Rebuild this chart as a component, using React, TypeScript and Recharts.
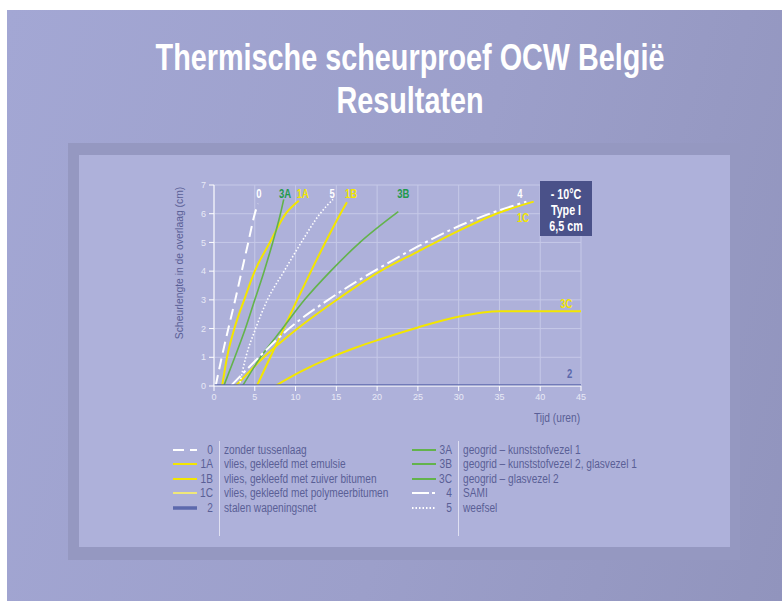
import { LineChart, Line, XAxis, YAxis, CartesianGrid, ReferenceDot } from 'recharts';

const FONT = '"Liberation Sans", Arial, sans-serif';
const NARROW = 0.8;

const WHITE = '#ffffff';
const YELLOW = '#f3e600';
const GREEN = '#63b34c';
const TAG_GREEN = '#1f9a4c';
const BLUE = '#5c69ad';
const TEXT = '#5a5f96';

// tick values
const X_TICKS = [0, 5, 10, 15, 20, 25, 30, 35, 40, 45];
const Y_TICKS = [0, 1, 2, 3, 4, 5, 6, 7];

// hours vs crack length (cm)
const HOURS_0 = [0.2, 0.95, 1.76, 2.6, 3.4, 4.2, 5.0, 5.4];
const CM_0 = [0, 1, 2, 3, 4, 5, 6, 6.35];

const HOURS_1A = [1.0, 1.6, 2.5, 3.7, 5.0, 6.85, 8.8, 10.4];
const CM_1A = [0, 1, 2, 3, 4, 5, 6, 6.45];

const HOURS_1B = [5.25, 6.9, 8.55, 10.2, 11.9, 13.65, 15.5, 16.3];
const CM_1B = [0, 1, 2, 3, 4, 5, 6, 6.4];

const HOURS_1C = [2.65, 6.1, 10.25, 14.8, 20.4, 25, 30.1, 35.1, 39.2];
const CM_1C = [0, 1, 2, 2.95, 4.0, 4.68, 5.42, 6.05, 6.42];

const HOURS_2 = [0, 45];
const CM_2 = [0, 0];

const HOURS_3A = [1.2, 2.55, 3.85, 5.0, 6.15, 7.2, 8.15, 8.55];
const CM_3A = [0, 1, 2, 3, 4, 5, 6, 6.5];

const HOURS_3B = [3.5, 5.7, 8.4, 11.1, 14.3, 17.9, 22.6];
const CM_3B = [0, 1, 2, 3, 4, 5, 6.07];

const HOURS_3C = [7.5, 10.5, 14.2, 17.5, 20.4, 25, 30.1, 35, 40, 45];
const CM_3C = [0, 0.48, 0.98, 1.35, 1.63, 2.04, 2.42, 2.6, 2.6, 2.6];

const HOURS_4 = [2.05, 5.5, 9.2, 14.0, 20.4, 25, 30.1, 35.1, 38.3];
const CM_4 = [0, 1, 2, 3, 4.13, 4.86, 5.58, 6.13, 6.42];

const HOURS_5 = [3.1, 3.9, 5.1, 6.55, 8.6, 10.7, 13.0, 14.6];
const CM_5 = [0, 1, 2, 3, 4, 5, 6, 6.5];

// curve tags inside the plot
const TAGS = ['0', '3A', '1A', '5', '1B', '3B', '4', '1C', '3C', '2'];
const TAG_HOURS = [5.5, 8.7, 10.9, 14.5, 16.8, 23.2, 37.5, 37.9, 43.2, 43.6];
const TAG_CM = [6.72, 6.72, 6.72, 6.72, 6.72, 6.72, 6.72, 5.88, 2.88, 0.45];
const TAG_COLORS = [WHITE, TAG_GREEN, YELLOW, WHITE, YELLOW, TAG_GREEN, WHITE, YELLOW, YELLOW, BLUE];

// legend
const LEGEND_LEFT_CODES = ['0', '1A', '1B', '1C', '2'];
const LEGEND_LEFT_TEXT = [
  'zonder tussenlaag',
  'vlies, gekleefd met emulsie',
  'vlies, gekleefd met zuiver bitumen',
  'vlies, gekleefd met polymeerbitumen',
  'stalen wapeningsnet',
];
const LEGEND_RIGHT_CODES = ['3A', '3B', '3C', '4', '5'];
const LEGEND_RIGHT_TEXT = [
  'geogrid \u2013 kunststofvezel 1',
  'geogrid \u2013 kunststofvezel 2, glasvezel 1',
  'geogrid \u2013 glasvezel 2',
  'SAMI',
  'weefsel',
];

const zip = (hours: number[], cm: number[]) => hours.map((h, i) => ({ h, cm: cm[i] }));

type Style = { color: string; width: number; dash?: string };

const STYLES: Record<string, Style> = {
  '0': { color: WHITE, width: 2, dash: '11 6' },
  '1A': { color: YELLOW, width: 2 },
  '1B': { color: YELLOW, width: 2 },
  '1C': { color: YELLOW, width: 2 },
  '2': { color: BLUE, width: 3.5 },
  '3A': { color: GREEN, width: 1.6 },
  '3B': { color: GREEN, width: 1.6 },
  '3C': { color: GREEN, width: 1.6 },
  '4': { color: WHITE, width: 2, dash: '14 4 3 4' },
  '5': { color: WHITE, width: 1.6, dash: '1.5 2' },
};

const SERIES = [
  { key: '0', data: zip(HOURS_0, CM_0), style: STYLES['0'] },
  { key: '1A', data: zip(HOURS_1A, CM_1A), style: STYLES['1A'] },
  { key: '1B', data: zip(HOURS_1B, CM_1B), style: STYLES['1B'] },
  { key: '1C', data: zip(HOURS_1C, CM_1C), style: STYLES['1C'] },
  { key: '3A', data: zip(HOURS_3A, CM_3A), style: STYLES['3A'] },
  { key: '3B', data: zip(HOURS_3B, CM_3B), style: STYLES['3B'] },
  { key: '3C', data: zip(HOURS_3C, CM_3C), style: { color: YELLOW, width: 2 } },
  { key: '4', data: zip(HOURS_4, CM_4), style: STYLES['4'] },
  { key: '5', data: zip(HOURS_5, CM_5), style: STYLES['5'] },
  { key: '2', data: zip(HOURS_2, CM_2), style: STYLES['2'] },
];

const LegendSample = ({ code, left, top }: { code: string; left: number; top: number }) => {
  const s = STYLES[code];
  return (
    <svg width={24} height={8} style={{ position: 'absolute', left, top: top - 4 }}>
      <line
        x1={0}
        x2={24}
        y1={4}
        y2={4}
        stroke={code === '1C' ? '#efe77a' : s.color}
        strokeWidth={code === '2' ? 3.5 : 2}
        strokeDasharray={code === '4' ? '17 3 3 3' : s.dash}
      />
    </svg>
  );
};

const LegendColumn = ({ codes, texts, left }: { codes: string[]; texts: string[]; left: number }) => (
  <>
    {codes.map((code, i) => {
      const y = 450 + i * 14.4;
      return (
        <div key={code}>
          <LegendSample code={code} left={left} top={y} />
          <div
            style={{
              position: 'absolute', left: left, top: y - 8, width: 40, height: 16, lineHeight: '16px',
              textAlign: 'right', transform: 'scaleX(0.81)', transformOrigin: 'right center', color: TEXT,
            }}
          >
            {code}
          </div>
          <div
            style={{
              position: 'absolute', left: left + 51, top: y - 8, height: 16, lineHeight: '16px',
              whiteSpace: 'nowrap', transform: 'scaleX(0.81)', transformOrigin: 'left center', color: TEXT,
            }}
          >
            {texts[i]}
          </div>
        </div>
      );
    })}
    <div style={{ position: 'absolute', left: left + 46, top: 441, width: 1, height: 95, background: '#dfe0f2' }} />
  </>
);

const Tag = ({ viewBox, value, fill }: any) => {
  const cx = viewBox.x + viewBox.width / 2;
  const cy = viewBox.y + viewBox.height / 2;
  return (
    <text
      transform={`translate(${cx} ${cy}) scale(0.76 1)`}
      textAnchor="middle"
      dominantBaseline="central"
      fill={fill}
      fontSize={12.5}
      fontWeight={700}
      fontFamily={FONT}
    >
      {value}
    </text>
  );
};

export default function App() {
  return (
    <div style={{ position: 'absolute', left: 0, top: 0, width: 782, height: 601, background: '#fff', overflow: 'hidden', fontFamily: FONT }}>
      <div style={{ position: 'absolute', left: 7, top: 10, width: 775, height: 591, background: 'linear-gradient(105deg, #a3a7d4 0%, #9c9fca 55%, #9194bd 100%)' }} />
      <div
        style={{
          position: 'absolute', left: 10, top: 36, width: 800, textAlign: 'center', color: '#fff', fontWeight: 700,
          fontSize: 36, lineHeight: '43px', transform: `scaleX(${NARROW})`, transformOrigin: 'center top', whiteSpace: 'nowrap',
        }}
      >
        Thermische scheurproef OCW België
        <br />
        Resultaten
      </div>
      <div style={{ position: 'absolute', left: 68, top: 143, width: 672, height: 417, background: '#9598c1' }} />
      <div style={{ position: 'absolute', left: 79, top: 155, width: 651, height: 392, background: '#aeb1da' }} />

      <div style={{ position: 'absolute', left: 0, top: 0 }}>
        <LineChart width={782} height={430} margin={{ top: 185, right: 201, bottom: 0, left: 174 }}>
          <CartesianGrid stroke="#c6c9e8" strokeWidth={1} />
          <XAxis
            dataKey="h"
            type="number"
            domain={[0, 45]}
            ticks={X_TICKS}
            height={44}
            stroke={WHITE}
            tickSize={5}
            tickMargin={3}
            tick={{ fill: '#e8e9f6', fontSize: 9, fontFamily: FONT }}
            allowDataOverflow
            label={{
              content: ({ viewBox }: any) => (
                <text
                  transform={`translate(${viewBox.x + viewBox.width - 24} ${viewBox.y + 32}) scale(0.85 1)`}
                  textAnchor="middle"
                  dominantBaseline="central"
                  fill={TEXT}
                  fontSize={12}
                  fontFamily={FONT}
                >
                  Tijd (uren)
                </text>
              ),
            }}
          />
          <YAxis
            type="number"
            domain={[0, 7]}
            ticks={Y_TICKS}
            width={40}
            stroke={WHITE}
            tickSize={5}
            tickMargin={3}
            tick={{ fill: '#e8e9f6', fontSize: 9, fontFamily: FONT }}
            allowDataOverflow
            label={{
              content: ({ viewBox }: any) => (
                <text
                  transform={`translate(${viewBox.x + 5} ${viewBox.y + 78}) rotate(-90) scale(0.9 1)`}
                  textAnchor="middle"
                  dominantBaseline="central"
                  fill={TEXT}
                  fontSize={11.5}
                  fontFamily={FONT}
                >
                  Scheurlengte in de overlaag (cm)
                </text>
              ),
            }}
          />
          {SERIES.map((s) => (
            <Line
              key={s.key}
              data={s.data}
              dataKey="cm"
              type="monotone"
              stroke={s.style.color}
              strokeWidth={s.style.width}
              strokeDasharray={s.style.dash}
              dot={false}
              activeDot={false}
              isAnimationActive={false}
            />
          ))}
          {TAGS.map((t, i) => (
            <ReferenceDot
              key={t}
              x={TAG_HOURS[i]}
              y={TAG_CM[i]}
              r={0}
              fill="none"
              stroke="none"
              ifOverflow="visible"
              label={{ content: (p: any) => <Tag viewBox={p.viewBox} value={t} fill={TAG_COLORS[i]} /> }}
            />
          ))}
        </LineChart>
      </div>

      <div style={{ position: 'absolute', left: 540, top: 181, width: 52, height: 55, background: '#4a5189' }} />
      {['- 10°C', 'Type I', '6,5 cm'].map((line, i) => (
        <div
          key={line}
          style={{
            position: 'absolute', left: 516, top: 186 + i * 16, width: 100, height: 17, lineHeight: '17px', textAlign: 'center',
            color: '#fff', fontWeight: 700, fontSize: 14.5, transform: 'scaleX(0.74)', transformOrigin: 'center',
          }}
        >
          {line}
        </div>
      ))}

      <div style={{ fontSize: 12.5 }}>
        <LegendColumn codes={LEGEND_LEFT_CODES} texts={LEGEND_LEFT_TEXT} left={173} />
        <LegendColumn codes={LEGEND_RIGHT_CODES} texts={LEGEND_RIGHT_TEXT} left={412} />
      </div>
    </div>
  );
}
